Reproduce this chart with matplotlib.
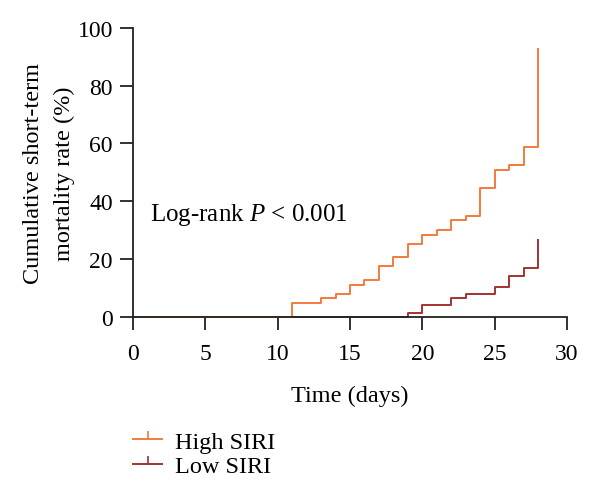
import numpy as np
import matplotlib
matplotlib.use("Agg")
import matplotlib.pyplot as plt
from matplotlib.lines import Line2D

plt.rcParams['font.family'] = ['Liberation Serif', 'DejaVu Serif']
plt.rcParams['mathtext.fontset'] = 'custom'
plt.rcParams['mathtext.it'] = 'Liberation Serif:italic'
plt.rcParams['mathtext.rm'] = 'Liberation Serif'

# datos (dias, % acumulado)
high_days = [0, 11, 13, 14, 15, 16, 17, 18, 19, 20, 21, 22, 23, 24, 25, 26, 27, 28]
high_rate = [0, 4.8, 6.45, 8.1, 11.2, 12.8, 17.5, 20.6, 25.2, 28.5, 30.1, 33.4, 34.9, 44.5, 50.8, 52.4, 58.8, 92.6]
low_days = [0, 19, 20, 22, 23, 25, 26, 27, 28]
low_rate = [0, 1.3, 4.0, 6.45, 7.8, 10.4, 14.2, 16.8, 26.6]
x_ticks = [0, 5, 10, 15, 20, 25, 30]
y_ticks = [0, 20, 40, 60, 80, 100]

col_high = "#F47A3C"
col_low = "#A33234"

fig = plt.figure(figsize=(6, 5.02), dpi=100)
ax = fig.add_axes([0.2217, 0.3665, 0.7233, 0.5763])

ax.step(low_days, low_rate, where="post", color=col_low, lw=1.4, clip_on=False)
ax.step(high_days, high_rate, where="post", color=col_high, lw=1.4, clip_on=False)

ax.set_xlim(0, 30)
ax.set_ylim(0, 100)
ax.set_xticks(x_ticks)
ax.set_yticks(y_ticks)
ax.spines["top"].set_visible(False)
ax.spines["right"].set_visible(False)
for s in ["left", "bottom"]:
    ax.spines[s].set_linewidth(1.3)
    ax.spines[s].set_color("#222222")
ax.tick_params(direction="out", length=9.5, width=1.3, labelsize=17, color="#222222")
ax.tick_params(axis="x", pad=9)
ax.tick_params(axis="y", pad=5)

ax.set_xlabel("Time (days)", fontsize=17.5, labelpad=15)
ax.set_ylabel("Cumulative short-term\nmortality rate (%)", fontsize=17.5, labelpad=2, linespacing=1.6)

ax.text(1.2, 35.6, "Log-rank $P$ < 0.001", fontsize=18, va="center", ha="left")

# leyenda: linea con marca de censura al centro
handles = []
for c in [col_high, col_low]:
    ln = Line2D([0], [0], color=c, lw=1.4)
    mk = Line2D([0], [0], color=c, lw=0, marker=2, markersize=6, markeredgewidth=1.2)
    handles.append((ln, mk))
fig.legend(handles, ["High SIRI", "Low SIRI"], loc="upper left", bbox_to_anchor=(0.222, 0.14),
           frameon=False, fontsize=17.5, handlelength=1.2, handletextpad=0.5,
           borderpad=0, borderaxespad=0, labelspacing=0.1, numpoints=1)

fig.savefig("out.png", dpi=100)
